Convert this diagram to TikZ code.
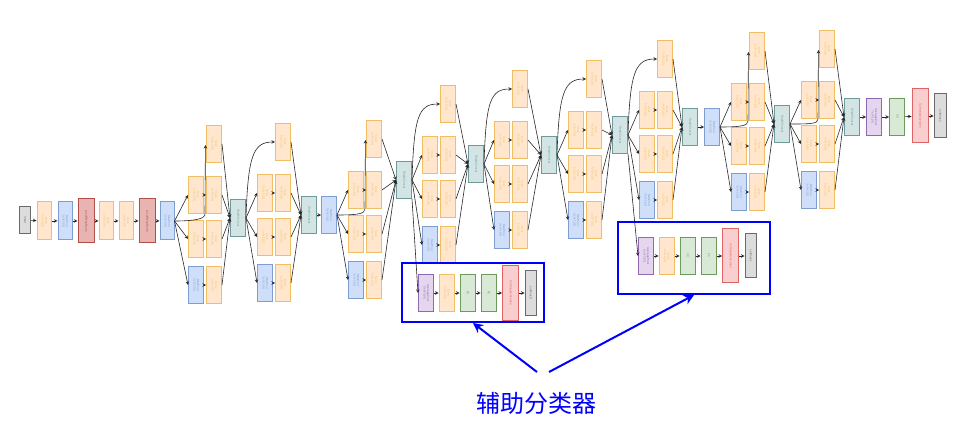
\documentclass[tikz,border=0pt]{standalone}
\usepackage{fontspec}
\setmainfont{Liberation Sans}
\newfontfamily\cjk{Noto Sans CJK SC}
\usepackage{graphicx}
\usepackage{xcolor}
\definecolor{conv-fill}{HTML}{FFE6CC}
\definecolor{conv-line}{HTML}{F2BE63}
\definecolor{pool-fill}{HTML}{CFDFFA}
\definecolor{pool-line}{HTML}{7E9DD0}
\definecolor{lrn-fill}{HTML}{E8B4B2}
\definecolor{lrn-line}{HTML}{B04E4A}
\definecolor{cat-fill}{HTML}{D2E4E4}
\definecolor{cat-line}{HTML}{6F9A9B}
\definecolor{avg-fill}{HTML}{E4D6EE}
\definecolor{avg-line}{HTML}{9468B0}
\definecolor{fc-fill}{HTML}{D8EAD6}
\definecolor{fc-line}{HTML}{6F9A5E}
\definecolor{act-fill}{HTML}{F8CFCE}
\definecolor{act-line}{HTML}{E06464}
\definecolor{out-fill}{HTML}{DCDCDC}
\definecolor{out-line}{HTML}{6A6A6A}
\definecolor{note-blue}{RGB}{0,0,255}
\usetikzlibrary{calc,arrows.meta}

\newcommand{\vtext}[1]{\rotatebox{-90}{\begin{tabular}{@{}c@{}}#1\end{tabular}}}

\tikzset{
	layer/.style={draw,line width=1pt,inner sep=0pt,minimum width=15pt,
		minimum height=37pt,font=\fontsize{3}{3.4}\selectfont},
	convbox/.style={layer,draw=conv-line,fill=conv-fill,text=conv-line},
	poolbox/.style={layer,draw=pool-line,fill=pool-fill,text=pool-line},
	lrnbox/.style={layer,draw=lrn-line,fill=lrn-fill,text=lrn-line,
		minimum width=16pt,minimum height=44pt},
	catbox/.style={layer,draw=cat-line,fill=cat-fill,text=cat-line},
	avgbox/.style={layer,draw=avg-line,fill=avg-fill,text=avg-line},
	fcbox/.style={layer,draw=fc-line,fill=fc-fill,text=fc-line},
	actbox/.style={layer,draw=act-line,fill=act-fill,text=act-line,
		minimum width=16pt,minimum height=54pt},
	outbox/.style={layer,draw=out-line,fill=out-fill,text=out-line,
		minimum width=12pt,minimum height=44pt},
	arr/.style={->,draw=black!85,line width=.6pt},
	auxframe/.style={draw=note-blue,line width=2pt,inner sep=0pt},
	note/.style={->,draw=note-blue,line width=2pt,
		-{Stealth[length=10pt,width=10pt]}}
}

\begin{document}
\begin{tikzpicture}[x=1pt,y=-1pt,>=stealth]
	\useasboundingbox (0,0) rectangle (960,435);
	
	% stem
	\node[outbox,minimum width=11pt,minimum height=27pt] (in) at (25,220) {\vtext{input}};
	\node[convbox,minimum width=14pt,minimum height=38pt] (s-conv1) at (44,221) {\vtext{Conv\\7x7+2(S)}};
	\node[poolbox,minimum width=14pt,minimum height=38pt] (s-mp1) at (65,221) {\vtext{MaxPool\\3x3+2(S)}};
	\node[lrnbox] (s-lrn1) at (86,221) {\vtext{LocalRespNorm}};
	\node[convbox,minimum width=14pt,minimum height=38pt] (s-conv2) at (106,221) {\vtext{Conv\\1x1+1(V)}};
	\node[convbox,minimum width=14pt,minimum height=38pt] (s-conv3) at (126,221) {\vtext{Conv\\3x3+1(S)}};
	\node[lrnbox] (s-lrn2) at (147,221) {\vtext{LocalRespNorm}};
	\node[poolbox,minimum width=14pt,minimum height=38pt] (mp2) at (167,221) {\vtext{MaxPool\\3x3+2(S)}};
	
	% pooling between stages
	\node[poolbox] (mp3) at (329,215) {\vtext{MaxPool\\3x3+2(S)}};
	\node[poolbox] (mp4) at (712,127) {\vtext{MaxPool\\3x3+2(S)}};
	
	\foreach \a/\b in {in/s-conv1,s-conv1/s-mp1,s-mp1/s-lrn1,s-lrn1/s-conv2,
		s-conv2/s-conv3,s-conv3/s-lrn2,s-lrn2/mp2}
		\draw[arr] (\a) -- (\b);
	
	% inception modules: name/right column/row 2/concat x/concat y/input/arc
	\foreach \n/\r/\s/\cx/\cy/\p/\t in
	{i3a/214/195/238/218/mp2/0,i3b/283/193/309/215/i3a-cat/1,
	 i4a/374/190/404/180/mp3/0,i4b/448/155/476/164/i4a-cat/1,
	 i4c/520/140/549/155/i4b-cat/1,i4d/594/130/620/135/i4c-cat/1,
	 i4e/665/110/690/127/i4d-cat/1,i5a/757/102/782/124/mp4/0,
	 i5b/827/100/852/117/i5a-cat/0}{
		\node[convbox] (\n-top) at (\r,\s-51) {\vtext{Conv\\1x1+1(S)}};
		\node[convbox] (\n-al) at (\r-18,\s) {\vtext{Conv\\1x1+1(S)}};
		\node[convbox] (\n-ar) at (\r,\s) {\vtext{Conv\\3x3+1(S)}};
		\node[convbox] (\n-bl) at (\r-18,\s+44) {\vtext{Conv\\1x1+1(S)}};
		\node[convbox] (\n-br) at (\r,\s+44) {\vtext{Conv\\5x5+1(S)}};
		\node[poolbox] (\n-cl) at (\r-18,\s+90) {\vtext{MaxPool\\3x3+1(S)}};
		\node[convbox] (\n-cr) at (\r,\s+90) {\vtext{Conv\\1x1+1(S)}};
		\node[catbox] (\n-cat) at (\cx,\cy) {\vtext{DepthConcat}};
		
		\draw[arr] (\p.east) -- (\n-al.west);
		\draw[arr] (\p.east) -- (\n-bl.west);
		\draw[arr] (\p.east) -- (\n-cl.west);
		\ifnum\t=1
			\draw[arr] (\p.east) .. controls +(2,-62) and +(-22,0) .. (\n-top.west);
		\else
			\draw[arr] (\p.east) .. controls +(20,0) and +(0,5) .. (\r-9,\s+19)
				-- (\r-8.6,\s-50);
		\fi
		\draw[arr] (\n-al) -- (\n-ar);
		\draw[arr] (\n-bl) -- (\n-br);
		\draw[arr] (\n-cl) -- (\n-cr);
		\foreach \m in {top,ar,br,cr}
			\draw[arr] (\n-\m.east) -- (\n-cat.west);
	}
	
	\draw[arr] (i3b-cat) -- (mp3);
	\draw[arr] (i4e-cat) -- (mp4);
	
	% head
	\node[avgbox] (f-pool) at (874,117) {\vtext{AveragePool\\7x7+1(V)}};
	\node[fcbox] (f-fc) at (897,117) {\vtext{FC}};
	\node[actbox] (f-act) at (920,116) {\vtext{SoftmaxActivation}};
	\node[outbox] (f-out) at (940,116) {\vtext{softmax2}};
	\foreach \a/\b in {i5b-cat/f-pool,f-pool/f-fc,f-fc/f-act,f-act/f-out}
		\draw[arr] (\a) -- (\b);
	
	% auxiliary heads
	\foreach \n/\y/\x/\k/\src in {a1/293/426/0/i4a-cat,a2/256/646/1/i4d-cat}{
		\node[avgbox] (\n-pool) at (\x,\y) {\vtext{AveragePool\\5x5+3(V)}};
		\node[convbox] (\n-conv) at (\x+20.5,\y) {\vtext{Conv\\1x1+1(S)}};
		\node[fcbox] (\n-fc1) at (\x+41.5,\y) {\vtext{FC}};
		\node[fcbox] (\n-fc2) at (\x+62.5,\y) {\vtext{FC}};
		\node[actbox] (\n-act) at (\x+84.5,\y) {\vtext{SoftmaxActivation}};
		\node[outbox,minimum width=11pt] (\n-out) at (\x+104.5,\y) {\vtext{softmax\k}};
		\foreach \a/\b in {pool/conv,conv/fc1,fc1/fc2,fc2/act,act/out}
			\draw[arr] (\n-\a) -- (\n-\b);
		\draw[arr] (\src.south east) -- (\n-pool.west);
	}
	
	% annotation
	\node[auxframe,minimum width=142pt,minimum height=59pt] (aux1) at (473,292.5) {};
	\node[auxframe,minimum width=152pt,minimum height=72pt] (aux2) at (694,258) {};
	\node[text=note-blue,font=\cjk\fontsize{24}{28}\selectfont] (lbl) at (536,403) {辅助分类器};
	\coordinate (lbl-l) at (537,372);
	\coordinate (lbl-r) at (549,372);
	\draw[note] (lbl-l) -- (aux1.south);
	\draw[note] (lbl-r) -- (aux2.south);
\end{tikzpicture}
\end{document}
